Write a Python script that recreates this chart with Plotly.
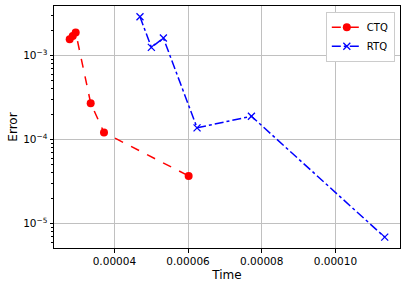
import plotly.graph_objects as go

ctq_time = [2.787e-5, 2.87e-5, 2.95e-5, 3.357e-5, 3.718e-5, 6.016e-5]
ctq_err = [1.55e-3, 1.70e-3, 1.87e-3, 2.70e-4, 1.21e-4, 3.69e-5]
rtq_time = [4.695e-5, 5.004e-5, 5.33e-5, 6.244e-5, 7.72e-5, 1.1338e-4]
rtq_err = [2.88e-3, 1.245e-3, 1.61e-3, 1.375e-4, 1.89e-4, 6.9e-6]

x_ticks = [4e-5, 6e-5, 8e-5, 1e-4]
x_labels = ["0.00004", "0.00006", "0.00008", "0.00010"]
y_ticks = [1e-5, 1e-4, 1e-3]
y_labels = ["10<sup>−5</sup>", "10<sup>−4</sup>", "10<sup>−3</sup>"]

minor_vals = [m * 10.0 ** e for e in (-6, -5, -4, -3) for m in range(2, 10)]

fig = go.Figure()
fig.add_trace(go.Scatter(x=ctq_time, y=ctq_err, name="CTQ", mode="lines+markers",
                         line=dict(color="red", dash="dash", width=1.5),
                         marker=dict(symbol="circle", size=8, color="red")))
fig.add_trace(go.Scatter(x=rtq_time, y=rtq_err, name="RTQ", mode="lines+markers",
                         line=dict(color="blue", dash="dashdot", width=1.5),
                         marker=dict(symbol="x-thin", size=7, line=dict(color="blue", width=1.3), color="blue")))

font = "DejaVu Sans"
fig.update_layout(
    width=407, height=287,
    margin=dict(l=54, r=7, t=6, b=39),
    paper_bgcolor="white", plot_bgcolor="white",
    font=dict(family=font, size=10.5, color="black"),
    showlegend=True,
    legend=dict(x=0.985, y=0.976, xanchor="right", yanchor="top",
                bgcolor="white", bordercolor="#cccccc", borderwidth=1,
                font=dict(size=10), itemwidth=30, tracegroupgap=0),
)
fig.update_xaxes(
    range=[2.361e-5, 1.1753e-4],
    tickvals=x_ticks, ticktext=x_labels,
    showgrid=True, gridcolor="#c0c0c0", gridwidth=0.8,
    showline=True, linecolor="black", linewidth=1, mirror=True,
    ticks="outside", ticklen=3.5, tickcolor="black",
    zeroline=False,
    title=dict(text="Time", font=dict(size=12), standoff=4),
)
fig.update_yaxes(
    type="log", range=[-5.29, -2.413],
    tickvals=y_ticks, ticktext=y_labels,
    showgrid=True, gridcolor="#c0c0c0", gridwidth=0.8,
    showline=True, linecolor="black", linewidth=1, mirror=True,
    ticks="outside", ticklen=3.5, tickcolor="black",
    minor=dict(tickmode="array", tickvals=minor_vals, ticks="outside", ticklen=2,
               tickcolor="black", showgrid=False),
    zeroline=False,
    title=dict(text="Error", font=dict(size=12), standoff=2),
)
fig.write_html("out.html", config={"displayModeBar": False},
               post_script="document.body.style.margin='0';document.body.style.padding='0';")
